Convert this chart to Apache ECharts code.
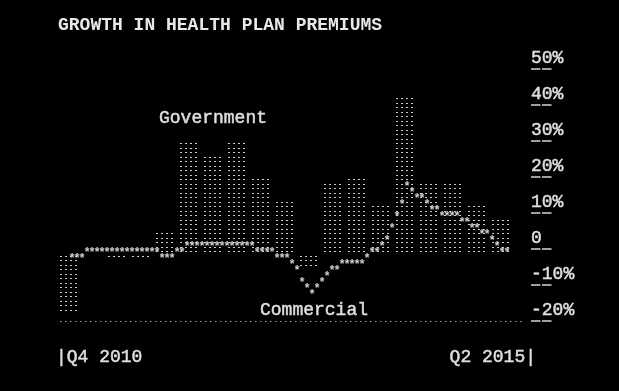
<!DOCTYPE html>
<html><head><meta charset="utf-8">
<script src="https://cdn.jsdelivr.net/npm/echarts@6.0.0/dist/echarts.min.js"></script>
<style>html,body{margin:0;padding:0;background:#000}#c{width:619px;height:391px}</style>
</head><body><div id="c"></div>
<script>
const quarters = ['Q4 2010','Q1 2011','Q2 2011','Q3 2011','Q4 2011','Q1 2012','Q2 2012','Q3 2012','Q4 2012','Q1 2013','Q2 2013','Q3 2013','Q4 2013','Q1 2014','Q2 2014','Q3 2014','Q4 2014','Q1 2015','Q2 2015'];
const government = [-17.8, 0, -2.2, -2.2, 5.3, 30.3, 26.9, 29.7, 19.7, 13.6, -4.6, 18.7, 19.7, 12.8, 43, 18.7, 18.7, 12, 8.6];
const commercial = [-2, 0, 0, 0, -2, 1.5, 1.5, 1.5, 0, -2.5, -12, -4.5, -3.5, 1.5, 18, 11, 9.5, 5.5, 0];
const yTickValues = [-20, -10, 0, 10, 20, 30, 40, 50];
const xEndLabels = ['|Q4 2010', 'Q2 2015|'];
const titleText = 'GROWTH IN HEALTH PLAN PREMIUMS';
const seriesNames = ['Government', 'Commercial'];

const FONT = '"Liberation Mono", "DejaVu Sans Mono", monospace';
const TXT = '#dedede';
const chart = echarts.init(document.getElementById('c'), null, {renderer: 'canvas'});

// dotted "text-grid" bars
function renderBars(params, api) {
  const i = params.dataIndex;
  const v = government[i];
  const top = api.coord([i, v]);
  const zeroY = api.coord([i, 0])[1];
  const left = Math.round(top[0] - 8);
  const rowStep = 4.5, colStep = 5, cols = 4;
  const base = zeroY + 2;
  const children = [];
  const rows = [];
  if (v > 0) {
    for (let k = 0; base - k * rowStep >= top[1] - 0.01; k++) rows.push(base - k * rowStep);
  } else if (v < 0) {
    for (let k = 1; base + k * rowStep <= top[1] + 0.01; k++) rows.push(base + k * rowStep);
  }
  rows.forEach(y => {
    for (let c = 0; c < cols; c++) {
      children.push({type: 'rect', shape: {x: left + c * colStep, y: Math.round(y), width: 2, height: 1},
        style: {fill: '#cccccc'}});
    }
  });
  return {type: 'group', children};
}

// asterisk "text-grid" line
function renderStars(params, api) {
  const i = params.dataIndex;
  const n = commercial.length;
  const p0 = api.coord([i, commercial[i]]);
  const zeroY = api.coord([i, 0])[1] + 1;
  const start = api.coord([0, commercial[0]])[0];
  const next = i < n - 1 ? api.coord([i + 1, commercial[i + 1]]) : null;
  const xEnd = next ? next[0] : p0[0] + 4;
  const step = 5, rowH = 6, shift = 4;
  const children = [];
  let k = Math.ceil((p0[0] - start) / step - 1e-6);
  for (let x = start + k * step; x < xEnd - 1e-6; x += step) {
    let y = next ? p0[1] + (next[1] - p0[1]) * (x - p0[0]) / (next[0] - p0[0]) : p0[1];
    const yq = zeroY + Math.round((y - zeroY) / rowH) * rowH;
    children.push({
      type: 'text',
      x: x + shift, y: yq + 3,
      style: {text: '*', fill: '#d0d0d0', font: 'bold 12px ' + FONT, align: 'center', verticalAlign: 'middle'}
    });
  }
  return {type: 'group', children};
}

function txt(x, y, text, extra) {
  return {type: 'text', x, y, style: Object.assign({text, fill: TXT, font: '18px ' + FONT, verticalAlign: 'middle',
    stroke: TXT, lineWidth: 0.5}, extra || {})};
}

const option = {
  backgroundColor: '#000',
  animation: false,
  grid: {left: 56, right: 107, top: 69, bottom: 70},
  xAxis: {
    type: 'category', data: quarters,
    axisLine: {show: false}, axisTick: {show: false}, axisLabel: {show: false}, splitLine: {show: false}
  },
  yAxis: {
    type: 'value', min: -20, max: 50, interval: 10, position: 'right', offset: 19,
    axisLine: {show: false},
    splitLine: {show: false},
    axisTick: {show: true, length: 21, lineStyle: {color: '#d4d4d4', width: 1.5, type: [9.5, 1.5]}},
    axisLabel: {
      margin: 0, color: TXT, fontFamily: FONT, fontSize: 18, verticalAlign: 'bottom', align: 'left',
      padding: [0, 0, 2, 0], textBorderColor: TXT, textBorderWidth: 0.5,
      formatter: v => (yTickValues.indexOf(v) < 0 ? '' : (v === 0 ? '0' : v + '%'))
    }
  },
  series: [
    {
      name: seriesNames[0], type: 'custom',
      data: government.map((v, i) => [i, v]),
      renderItem: renderBars,
      z: 2
    },
    {
      name: seriesNames[1], type: 'custom',
      data: commercial.map((v, i) => [i, v]),
      renderItem: renderStars,
      z: 3
    }
  ],
  graphic: [
    txt(58, 25.5, titleText, {font: 'bold 18px ' + FONT, fill: '#e8e8e8', stroke: null, lineWidth: 0}),
    txt(159, 118, seriesNames[0]),
    txt(260, 310, seriesNames[1]),
    txt(56, 357, xEndLabels[0]),
    txt(536, 357, xEndLabels[1], {align: 'right'}),
    {type: 'line', shape: {x1: 60, y1: 321.5, x2: 522, y2: 321.5}, style: {stroke: '#9a9a9a', lineWidth: 1, lineDash: [1.5, 3.5]}}
  ]
};
chart.setOption(option);
</script>
</body></html>
